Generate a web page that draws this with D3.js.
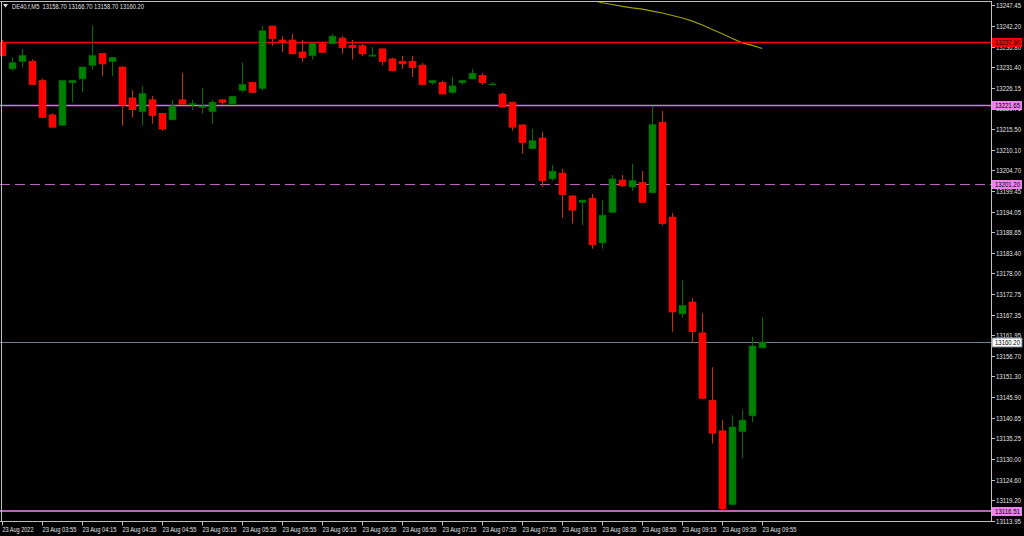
<!DOCTYPE html>
<html><head><meta charset="utf-8">
<script src="https://cdn.jsdelivr.net/npm/d3@7"></script>
<style>html,body{margin:0;padding:0;background:#000;overflow:hidden}</style>
</head><body>
<svg id="c" width="1024" height="536"></svg>
<script>
const open  = [13237.6,13231.0,13232.9,13233.0,13228.0,13219.1,13216.4,13227.4,13228.4,13231.9,13235.0,13232.9,13231.5,13223.5,13219.9,13223.0,13219.5,13217.8,13223.0,13221.7,13221.0,13219.9,13223.0,13221.9,13225.4,13227.5,13225.9,13242.1,13238.5,13238.5,13235.4,13234.4,13237.5,13237.5,13239.0,13237.1,13237.0,13234.3,13236.2,13233.6,13233.0,13233.0,13232.0,13227.4,13227.5,13224.9,13227.4,13228.4,13229.3,13227.0,13224.5,13222.4,13216.5,13210.3,13213.1,13202.5,13204.0,13198.1,13196.4,13197.5,13185.9,13193.8,13202.2,13200.4,13201.6,13198.9,13217.2,13192.6,13167.5,13170.6,13162.6,13145.1,13137.2,13118.1,13137.0,13141.1,13158.7];
const high  = [13238.5,13234.0,13236.1,13233.5,13228.5,13219.5,13228.1,13228.1,13231.6,13242.2,13235.1,13234.1,13231.6,13225.5,13226.6,13224.0,13219.6,13223.0,13229.9,13223.0,13226.1,13223.0,13223.1,13224.0,13232.6,13227.7,13242.2,13242.2,13239.5,13240.1,13238.5,13237.8,13238.0,13240.1,13239.5,13238.5,13237.5,13236.7,13236.3,13233.9,13234.4,13234.4,13232.5,13228.1,13228.0,13228.9,13228.1,13231.0,13229.9,13227.6,13224.9,13222.5,13216.6,13215.5,13214.7,13206.1,13205.1,13198.2,13197.1,13198.6,13197.0,13203.5,13203.5,13206.4,13204.5,13221.4,13220.1,13193.7,13176.2,13171.6,13167.7,13153.7,13140.0,13141.2,13142.6,13161.6,13166.7];
const low   = [13234.4,13230.5,13231.4,13226.9,13218.3,13215.8,13216.3,13222.3,13224.9,13230.9,13229.2,13229.2,13216.3,13218.4,13216.3,13216.8,13215.0,13217.7,13221.8,13220.4,13219.4,13216.8,13221.8,13221.8,13224.9,13224.8,13225.4,13237.0,13235.3,13234.8,13232.9,13233.4,13235.2,13237.4,13234.9,13233.4,13234.4,13234.2,13231.9,13230.4,13231.0,13228.9,13226.8,13226.9,13224.4,13224.5,13226.9,13228.3,13226.9,13226.9,13221.0,13215.0,13209.0,13210.2,13200.4,13202.0,13192.4,13190.9,13190.5,13184.4,13184.4,13193.7,13200.4,13199.4,13196.4,13198.8,13190.4,13162.9,13166.5,13160.1,13145.5,13133.9,13116.5,13118.0,13130.1,13139.5,13158.7];
const close = [13234.4,13232.6,13234.5,13226.9,13218.4,13215.9,13228.0,13228.0,13231.5,13234.5,13232.3,13234.0,13221.6,13220.4,13224.6,13218.9,13215.4,13221.4,13221.9,13222.0,13221.4,13222.4,13222.3,13223.9,13227.0,13224.9,13240.9,13238.8,13238.0,13234.9,13233.9,13237.7,13235.3,13239.5,13236.5,13236.5,13234.9,13234.6,13232.9,13230.5,13232.3,13231.4,13226.9,13228.0,13224.5,13226.6,13228.0,13229.9,13227.4,13227.1,13221.1,13215.9,13211.9,13212.4,13202.0,13204.5,13198.4,13194.4,13197.0,13185.4,13193.1,13202.5,13200.7,13202.1,13196.4,13216.6,13190.9,13168.0,13169.7,13162.9,13145.6,13136.6,13117.0,13138.2,13140.0,13159.2,13160.2];
// moving average (candle index 59..76)
const maStart = 59;
const maValues = [13248.75,13248.15,13247.7,13247.2,13246.8,13246.5,13246.0,13245.5,13244.85,13244.2,13243.4,13242.4,13241.2,13240.1,13238.9,13237.75,13237.1,13236.3];
const priceTicks = [13247.45,13242.20,13236.80,13231.40,13226.15,13220.75,13215.50,13210.10,13204.70,13199.45,13194.05,13188.65,13183.40,13178.00,13172.75,13167.35,13161.95,13156.70,13151.30,13145.90,13140.65,13135.25,13130.00,13124.60,13119.20,13113.95];
const timeTickIdx = [0,4,8,12,16,20,24,28,32,36,40,44,48,52,56,60,64,68,72,76];
const timeTickLabels = ["23 Aug 2022","23 Aug 03:55","23 Aug 04:15","23 Aug 04:35","23 Aug 04:55","23 Aug 05:15","23 Aug 05:35","23 Aug 05:55","23 Aug 06:15","23 Aug 06:35","23 Aug 06:55","23 Aug 07:15","23 Aug 07:35","23 Aug 07:55","23 Aug 08:15","23 Aug 08:35","23 Aug 08:55","23 Aug 09:15","23 Aug 09:35","23 Aug 09:55"];
const levels = [
  {v:13237.90, label:"13237.90", color:"#ff0000", w:1.5, dash:null, text:"#000"},
  {v:13221.65, label:"13221.65", color:"#e070e0", w:1.5, dash:null, text:"#000", box:"#ee82ee"},
  {v:13201.20, label:"13201.20", color:"#c060c0", w:1, dash:"10,5", text:"#000", box:"#ee82ee"},
  {v:13160.20, label:"13160.20", color:"#708090", w:1, dash:null, text:"#000", box:"#fff"},
  {v:13116.51, label:"13116.51", color:"#c060c0", w:2, dash:null, text:"#000", box:"#ee82ee"}
];
const header = "DE40.f,M5  13158.70 13166.70 13158.70 13160.20";

const svg = d3.select("#c");
const plotR = 991, plotB = 521.5;
const y = d3.scaleLinear().domain([13113.95,13247.45]).range([520.6,5.45]);
const x = d3.scaleLinear().domain([0,76]).range([2.3,762.3]);
const font = "'Liberation Sans', Arial, sans-serif";
const fs = "7px";

svg.append("rect").attr("width",1024).attr("height",536).attr("fill","#000");
svg.append("clipPath").attr("id","pc").append("rect").attr("x",0).attr("y",1).attr("width",plotR).attr("height",plotB-1);
const g = svg.append("g").attr("clip-path","url(#pc)");

// MA line
const maLine = d3.line().x((d,i)=>x(maStart+i)).y(d=>y(d));
g.append("path").datum(maValues).attr("d",maLine).attr("fill","none").attr("stroke","#a0a000").attr("stroke-width",1.2);

// levels lines
levels.forEach(l=>{
  const yy = Math.round(y(l.v)) + (l.w===2?0:0.5);
  g.append("line").attr("x1",0).attr("x2",plotR).attr("y1",yy).attr("y2",yy)
   .attr("stroke",l.color).attr("stroke-width",l.w).attr("stroke-dasharray",l.dash);
});

// candles
const idx = d3.range(open.length);
const up = i => close[i] >= open[i];
g.selectAll("line.wick").data(idx).enter().append("line")
  .attr("x1",i=>Math.round(x(i))+0.5).attr("x2",i=>Math.round(x(i))+0.5)
  .attr("y1",i=>y(high[i])).attr("y2",i=>y(low[i]))
  .attr("stroke",i=>up(i)?"#007000":"#d03000").attr("stroke-width",1);
g.selectAll("rect.body").data(idx).enter().append("rect")
  .attr("x",i=>Math.round(x(i))-3).attr("width",7)
  .attr("y",i=>y(Math.max(open[i],close[i])))
  .attr("height",i=>Math.max(1,Math.abs(y(open[i])-y(close[i]))))
  .attr("fill",i=>up(i)?"#008000":"#ff0000")
  .attr("stroke",i=>up(i)?"#006400":"#e02000").attr("stroke-width",0.6);

// borders
const bc = "#c0c0c0";
svg.append("line").attr("x1",0).attr("x2",plotR).attr("y1",1.5).attr("y2",1.5).attr("stroke",bc);
svg.append("line").attr("x1",1.5).attr("x2",1.5).attr("y1",1).attr("y2",plotB).attr("stroke",bc);
svg.append("line").attr("x1",plotR+0.5).attr("x2",plotR+0.5).attr("y1",1).attr("y2",plotB).attr("stroke",bc);
svg.append("line").attr("x1",0).attr("x2",plotR).attr("y1",plotB).attr("y2",plotB).attr("stroke",bc);

// right axis
const ya = svg.append("g");
priceTicks.forEach(t=>{
  const yy = Math.round(y(t))+0.5;
  ya.append("line").attr("x1",plotR).attr("x2",plotR+4).attr("y1",yy).attr("y2",yy).attr("stroke",bc);
  ya.append("text").attr("x",996).attr("y",yy).attr("dy","0.35em").attr("fill","#e0e0e0")
    .attr("font-family",font).attr("font-size",fs)
    .attr("textLength",25).attr("lengthAdjust","spacingAndGlyphs").text(t.toFixed(2));
});
// bottom axis
timeTickIdx.forEach((ti,k)=>{
  const xx = Math.round(x(ti))+0.5;
  const lab = timeTickLabels[k];
  svg.append("line").attr("x1",xx).attr("x2",xx).attr("y1",plotB).attr("y2",plotB+4).attr("stroke",bc);
  svg.append("text").attr("x",xx).attr("y",531.5).attr("fill","#e0e0e0")
    .attr("font-family",font).attr("font-size",fs)
    .attr("textLength", lab.length===11 ? 31 : 34).attr("lengthAdjust","spacingAndGlyphs").text(lab);
});
// level labels
levels.forEach(l=>{
  const yy = Math.round(y(l.v));
  ya.append("rect").attr("x",992).attr("y",yy-4).attr("width",30).attr("height",9)
    .attr("fill",l.box || l.color).attr("stroke", l.box==="#fff"?"#708090":"none");
  ya.append("text").attr("x",995).attr("y",yy+0.5).attr("dy","0.35em").attr("fill",l.text)
    .attr("font-family",font).attr("font-size",fs)
    .attr("textLength",25).attr("lengthAdjust","spacingAndGlyphs").text(l.label);
});

// header
svg.append("path").attr("d","M3,4 L8,4 L5.5,7.5 Z").attr("fill","#e0e0e0");
svg.append("text").attr("x",12).attr("y",9).attr("fill","#e0e0e0").attr("font-family",font)
  .attr("font-size",fs).attr("xml:space","preserve").style("white-space","pre")
  .attr("textLength",132).attr("lengthAdjust","spacingAndGlyphs").text(header);
</script>
</body></html>
